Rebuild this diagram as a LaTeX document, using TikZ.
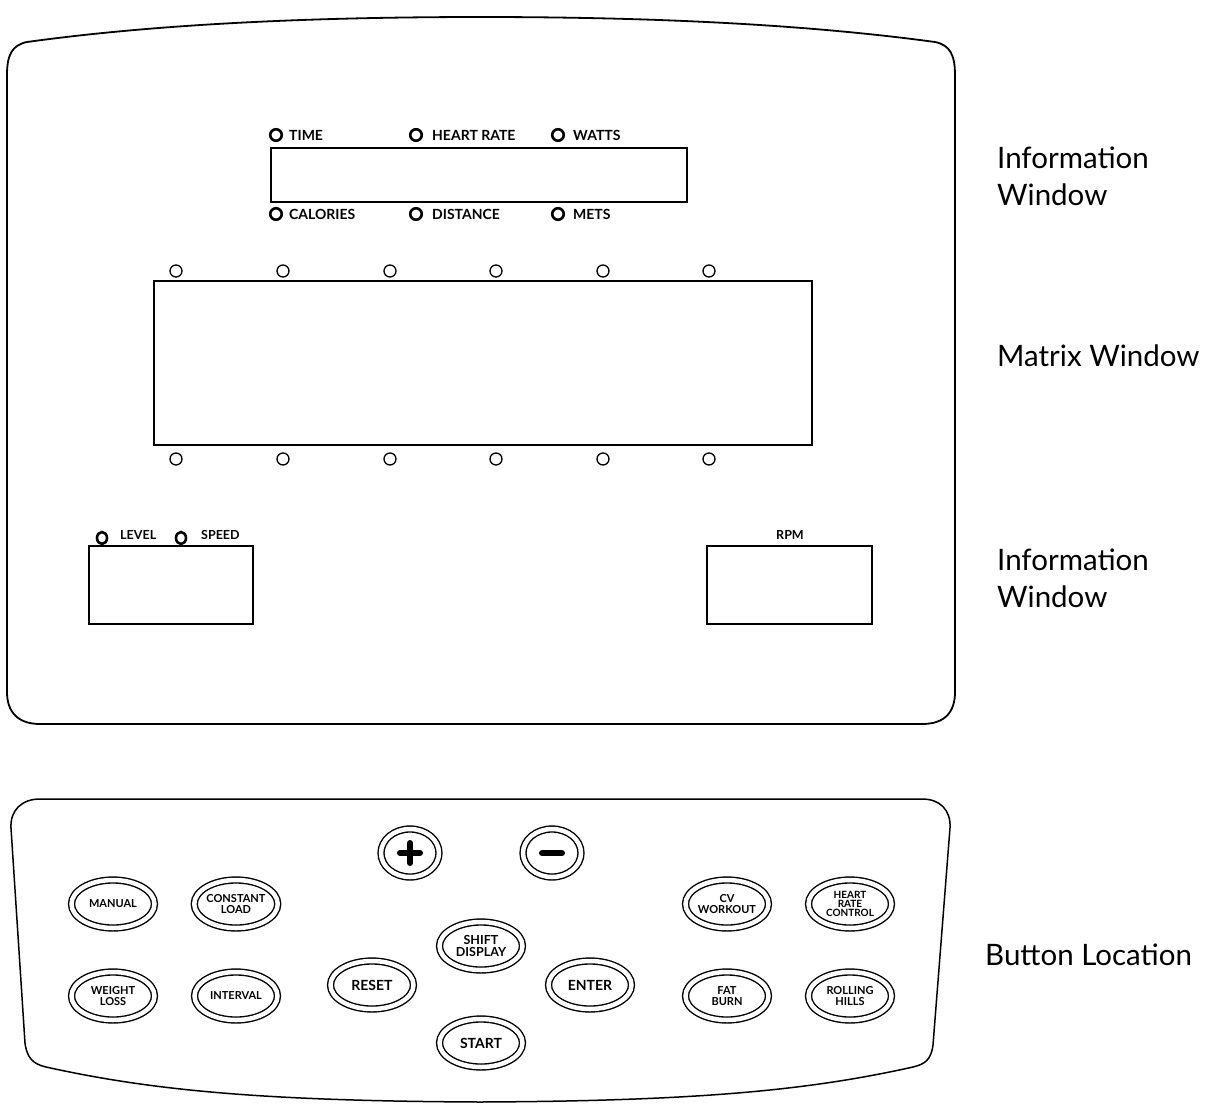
\documentclass[tikz,border=0pt]{standalone}
\usepackage{fontspec}
\setmainfont{Lato}
\usetikzlibrary{shapes.geometric}
\tikzset{
  btn/.style={ellipse,draw,double,double distance=4.5pt,line width=1.4pt,
    minimum width=83pt,minimum height=48pt,inner sep=0pt,align=center,
    font=\bfseries\fontsize{11}{10.5}\selectfont},
  bigbtn/.style={btn,font=\bfseries\fontsize{14}{13}\selectfont},
  lamp/.style={circle,draw,line width=2.6pt,minimum size=11.5pt,inner sep=0pt},
  mdot/.style={circle,draw,line width=1.3pt,minimum size=12pt,inner sep=0pt},
  tag/.style={anchor=west,inner sep=0pt,font=\bfseries\fontsize{14}{14}\selectfont},
  side/.style={anchor=west,align=left,inner sep=0pt,font=\fontsize{29.5}{37}\selectfont},
}
\begin{document}
\begin{tikzpicture}[x=1pt,y=-1pt]
\useasboundingbox (0,0) rectangle (1219,1104);
% console
\draw[line width=1.8pt] (27,42) .. controls (150,25) and (300,17) .. (481,17)
  .. controls (660,17) and (810,25) .. (935,42)
  .. controls (950,45) and (955,55) .. (955,75) -- (955,692)
  .. controls (955,712) and (945,724) .. (922,724) -- (40,724)
  .. controls (18,724) and (7,712) .. (7,692) -- (7,75)
  .. controls (7,55) and (12,45) .. (27,42) -- cycle;
\draw[line width=2.2pt] (271,148) rectangle (687,202);
\draw[line width=1.8pt] (154,281) rectangle (812,445);
\draw[line width=1.8pt] (89,546) rectangle (253,624);
\draw[line width=1.8pt] (707,546) rectangle (872,624);
% information window
\node[lamp] (ltime) at (276,135) {};
\node[tag] (ttime) at (289,135) {TIME};
\node[lamp] (lhr) at (416,135) {};
\node[tag] (thr) at (432,135) {HEART RATE};
\node[lamp] (lwatts) at (558,135) {};
\node[tag] (twatts) at (573,135) {WATTS};
\node[lamp] (lcal) at (276,214) {};
\node[tag] (tcal) at (289,214) {CALORIES};
\node[lamp] (ldist) at (416,214) {};
\node[tag] (tdist) at (432,214) {DISTANCE};
\node[lamp] (lmets) at (558,214) {};
\node[tag] (tmets) at (573,214) {METS};
% matrix window
\foreach \x [count=\i] in {176,283,390,496,603,709} {
  \node[mdot] (mtop\i) at (\x,271) {};
  \node[mdot] (mbot\i) at (\x,459) {};
}
\node[lamp,minimum width=10pt,minimum height=12pt,ellipse] (llevel) at (102,538) {};
\node[tag,font=\bfseries\fontsize{12.5}{12}\selectfont] (tlevel) at (120,535) {LEVEL};
\node[lamp,minimum width=10pt,minimum height=12pt,ellipse] (lspeed) at (181,538) {};
\node[tag,font=\bfseries\fontsize{12.5}{12}\selectfont] (tspeed) at (201,535) {SPEED};
\node[inner sep=0pt,font=\bfseries\fontsize{12.5}{12}\selectfont] (rpm) at (790,535) {RPM};
% labels
\node[side] (info1) at (997,176) {Information\\Window};
\node[side] (matrix) at (997,356) {Matrix Window};
\node[side] (info2) at (997,578) {Information\\Window};
\node[side] (buttons) at (985,955) {Button Location};
% button panel
\draw[line width=1.5pt] (40,799) -- (922,799)
  .. controls (940,799) and (951,810) .. (950,828) -- (933,1045)
  .. controls (931,1060) and (925,1064) .. (913,1067)
  .. controls (810,1090) and (700,1101) .. (480,1102)
  .. controls (260,1101) and (150,1090) .. (46,1067)
  .. controls (33,1064) and (27,1058) .. (25,1043) -- (11,828)
  .. controls (10,810) and (22,799) .. (40,799) -- cycle;
\node[btn,minimum width=58pt,minimum height=48pt] (plus) at (410,853) {};
\node[btn,minimum width=58pt,minimum height=48pt] (minus) at (552,853) {};
\draw[line width=6pt,line cap=round] ([xshift=-10pt]plus.center) -- ([xshift=10pt]plus.center);
\draw[line width=6pt,line cap=round] ([yshift=-10pt]plus.center) -- ([yshift=10pt]plus.center);
\draw[line width=6pt,line cap=round] ([xshift=-10pt]minus.center) -- ([xshift=10pt]minus.center);
\node[btn] (manual) at (113,904) {MANUAL};
\node[btn] (cload) at (236,904) {CONSTANT\\LOAD};
\node[btn] (wloss) at (113,996) {WEIGHT\\LOSS};
\node[btn] (interval) at (236,996) {INTERVAL};
\node[bigbtn] (reset) at (372,985) {RESET};
\node[btn,font=\bfseries\fontsize{12.5}{11.5}\selectfont] (shift) at (481,946) {SHIFT\\DISPLAY};
\node[bigbtn] (enter) at (590,985) {ENTER};
\node[bigbtn] (start) at (481,1043) {START};
\node[btn] (cv) at (727,904) {CV\\WORKOUT};
\node[btn,font=\bfseries\fontsize{10}{9}\selectfont] (hrc) at (850,904) {HEART\\RATE\\CONTROL};
\node[btn] (fat) at (727,996) {FAT\\BURN};
\node[btn] (hills) at (850,996) {ROLLING\\HILLS};
\end{tikzpicture}
\end{document}
